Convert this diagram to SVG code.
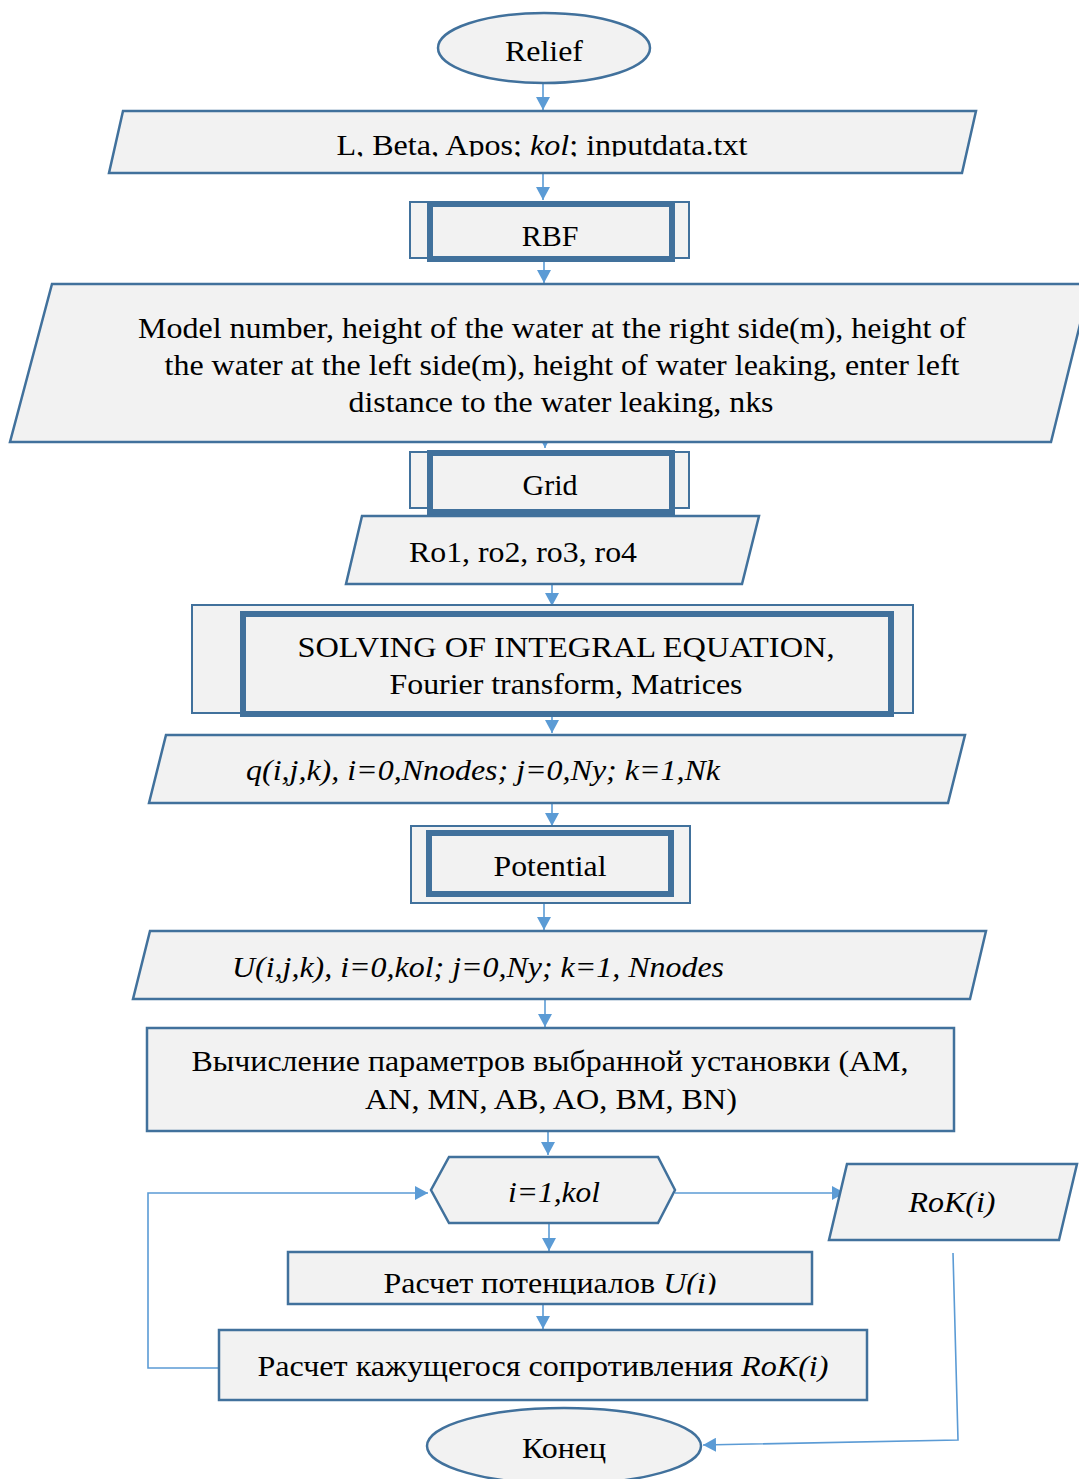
<svg xmlns="http://www.w3.org/2000/svg" width="1079" height="1479" viewBox="0 0 1079 1479">
<style>
.n{fill:#f2f2f2;stroke:#41719c;stroke-width:2.5}
.thin{fill:#f2f2f2;stroke:#41719c;stroke-width:2}
.thick{fill:#f2f2f2;stroke:#41719c;stroke-width:6}
.c{fill:none;stroke:#5b9bd5;stroke-width:1.6}
text{font-family:"Liberation Serif","Times New Roman",serif;font-size:30px;fill:#000;text-anchor:middle}
.i{font-style:italic}
</style>
<defs>
<marker id="ah" markerWidth="14" markerHeight="14" refX="13" refY="7" orient="auto" markerUnits="userSpaceOnUse">
<path d="M0,0 L13,7 L0,14 Z" fill="#5b9bd5"/>
</marker>
<clipPath id="clip1"><rect x="100" y="100" width="900" height="56.5"/></clipPath>
<clipPath id="clip2"><rect x="290" y="1254" width="520" height="40.5"/></clipPath>
</defs>

<g id="connectors">
<line class="c" x1="543" y1="83" x2="543" y2="110" marker-end="url(#ah)"/>
<line class="c" x1="543" y1="173" x2="543" y2="200" marker-end="url(#ah)"/>
<line class="c" x1="544" y1="262" x2="544" y2="283" marker-end="url(#ah)"/>
<line class="c" x1="545" y1="420" x2="545" y2="448" marker-end="url(#ah)"/>
<line class="c" x1="552" y1="584" x2="552" y2="606" marker-end="url(#ah)"/>
<line class="c" x1="552" y1="716" x2="552" y2="733" marker-end="url(#ah)"/>
<line class="c" x1="552" y1="798" x2="552" y2="826" marker-end="url(#ah)"/>
<line class="c" x1="544" y1="903" x2="544" y2="930" marker-end="url(#ah)"/>
<line class="c" x1="545" y1="999" x2="545" y2="1027" marker-end="url(#ah)"/>
<line class="c" x1="548" y1="1131" x2="548" y2="1155" marker-end="url(#ah)"/>
<line class="c" x1="549" y1="1223" x2="549" y2="1251" marker-end="url(#ah)"/>
<line class="c" x1="543" y1="1302" x2="543" y2="1329" marker-end="url(#ah)"/>
<line class="c" x1="675" y1="1193" x2="845" y2="1193" marker-end="url(#ah)"/>
<polyline class="c" points="219,1368 148,1368 148,1193 428,1193" marker-end="url(#ah)"/>
<polyline class="c" points="953,1253 958,1440 703,1445" marker-end="url(#ah)"/>
</g>

<g id="relief">
<ellipse class="n" cx="544" cy="48" rx="106" ry="35"/>
<text x="544" y="61" textLength="78" lengthAdjust="spacingAndGlyphs">Relief</text>
</g>

<g id="input1">
<polygon class="n" points="123,111 976,111 962,173 109,173"/>
<text x="542" y="155" clip-path="url(#clip1)" textLength="411" lengthAdjust="spacingAndGlyphs">L, Beta, Apos; <tspan class="i">kol</tspan>; inputdata.txt</text>
</g>

<g id="rbf">
<rect class="thin" x="410" y="202" width="279" height="56"/>
<rect class="thick" x="430" y="204" width="242" height="55"/>
<text x="550" y="246">RBF</text>
</g>

<g id="model">
<polygon class="n" points="52,284 1090,284 1051,442 10,442"/>
<text x="552" y="338" textLength="828" lengthAdjust="spacingAndGlyphs">Model number, height of the water at the right side(m), height of</text>
<text x="562" y="375" textLength="795" lengthAdjust="spacingAndGlyphs">the water at the left side(m), height of water leaking, enter left</text>
<text x="561" y="412" textLength="425" lengthAdjust="spacingAndGlyphs">distance to the water leaking, nks</text>
</g>

<g id="grid">
<rect class="thin" x="410" y="452" width="279" height="56"/>
<rect class="thick" x="430" y="453" width="242" height="59"/>
<text x="550" y="495">Grid</text>
</g>

<g id="ro">
<polygon class="n" points="362,516 759,516 742,584 346,584"/>
<text x="523" y="562" textLength="228" lengthAdjust="spacingAndGlyphs">Ro1, ro2, ro3, ro4</text>
</g>

<g id="solving">
<rect class="thin" x="192" y="605" width="721" height="108"/>
<rect class="thick" x="243" y="614" width="648" height="100"/>
<text x="566" y="657" textLength="537" lengthAdjust="spacingAndGlyphs">SOLVING OF INTEGRAL EQUATION,</text>
<text x="566" y="694" textLength="353" lengthAdjust="spacingAndGlyphs">Fourier transform, Matrices</text>
</g>

<g id="qout">
<polygon class="n" points="166,735 965,735 948,803 149,803"/>
<text class="i" x="483" y="780" textLength="474" lengthAdjust="spacingAndGlyphs">q(i,j,k), i=0,Nnodes; j=0,Ny; k=1,Nk</text>
</g>

<g id="potential">
<rect class="thin" x="411" y="826" width="279" height="77"/>
<rect class="thick" x="429" y="833" width="242" height="61"/>
<text x="550" y="876" textLength="113" lengthAdjust="spacingAndGlyphs">Potential</text>
</g>

<g id="uout">
<polygon class="n" points="150,931 986,931 970,999 133,999"/>
<text class="i" x="478" y="977" textLength="492" lengthAdjust="spacingAndGlyphs">U(i,j,k), i=0,kol; j=0,Ny; k=1, Nnodes</text>
</g>

<g id="calcparams">
<rect class="n" x="147" y="1028" width="807" height="103"/>
<text x="550" y="1071" textLength="717" lengthAdjust="spacingAndGlyphs">Вычисление параметров выбранной установки (AM,</text>
<text x="551" y="1109" textLength="372" lengthAdjust="spacingAndGlyphs">AN, MN, AB, AO, BM, BN)</text>
</g>

<g id="loop">
<polygon class="n" points="449,1157 658,1157 675,1190 658,1223 449,1223 431,1190"/>
<text class="i" x="554" y="1202" textLength="92" lengthAdjust="spacingAndGlyphs">i=1,kol</text>
</g>

<g id="rok">
<polygon class="n" points="847,1164 1077,1164 1059,1240 829,1240"/>
<text class="i" x="952" y="1212" textLength="87" lengthAdjust="spacingAndGlyphs">RoK(i)</text>
</g>

<g id="calcu">
<rect class="n" x="288" y="1252" width="524" height="52"/>
<text x="550" y="1293" clip-path="url(#clip2)" textLength="333" lengthAdjust="spacingAndGlyphs">Расчет потенциалов <tspan class="i">U(i)</tspan></text>
</g>

<g id="calcrok">
<rect class="n" x="219" y="1330" width="648" height="70"/>
<text x="543" y="1376" textLength="571" lengthAdjust="spacingAndGlyphs">Расчет кажущегося сопротивления <tspan class="i">RoK(i)</tspan></text>
</g>

<g id="end">
<ellipse class="n" cx="564" cy="1446" rx="137" ry="38"/>
<text x="564" y="1458" textLength="84" lengthAdjust="spacingAndGlyphs">Конец</text>
</g>
</svg>
